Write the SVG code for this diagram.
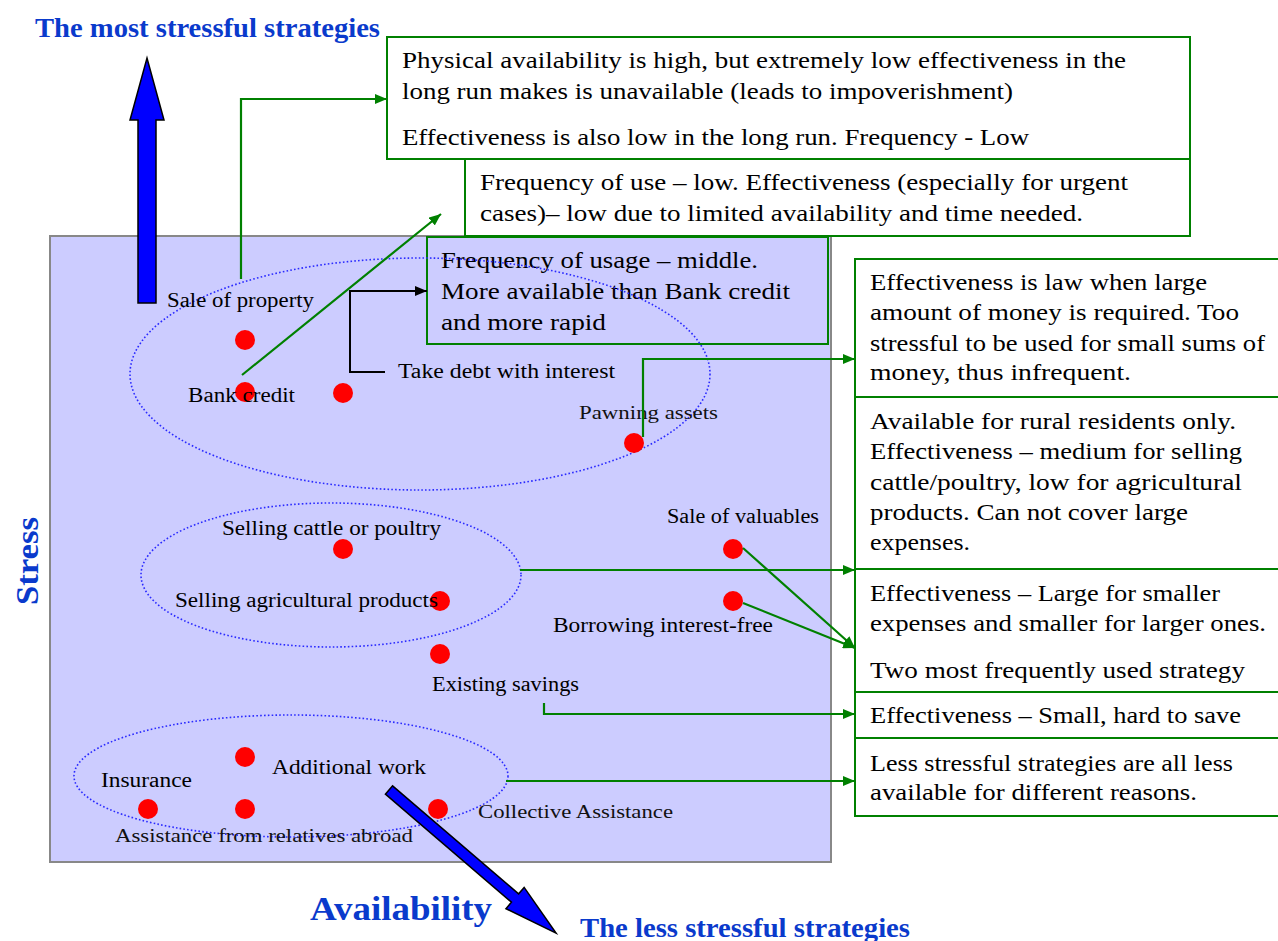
<svg xmlns="http://www.w3.org/2000/svg" width="1278" height="941" viewBox="0 0 1278 941">
  <style>
    .box { fill: #ffffff; stroke: #008000; stroke-width: 2; }
    .boxl { fill: #ccccff; stroke: #008000; stroke-width: 2; }
    .txt { font-family: "Liberation Serif", "DejaVu Serif", serif; font-size: 22.5px; fill: #000; }
    .lbl { font-family: "Liberation Serif", "DejaVu Serif", serif; font-size: 20px; fill: #000; }
    .lbls { font-family: "Liberation Serif", "DejaVu Serif", serif; font-size: 19px; fill: #111; }
    .head { font-family: "Liberation Serif", "DejaVu Serif", serif; font-weight: bold; fill: #0a3acc; }
    .dot { fill: #ff0000; }
    .ell { fill: none; stroke: #2a2aff; stroke-width: 1.6; stroke-dasharray: 1.6 2.2; }
    .con { fill: none; stroke: #008000; stroke-width: 2.2; }
    .conk { fill: none; stroke: #000; stroke-width: 2; }
    .big { fill: #0000ff; stroke: #000; stroke-width: 1.5; }
  </style>
  <defs>
    <marker id="ag" viewBox="0 0 12 10" refX="12" refY="5" markerWidth="12" markerHeight="10" markerUnits="userSpaceOnUse" orient="auto">
      <path d="M0,0 L12,5 L0,10 z" fill="#008000"/>
    </marker>
    <marker id="ak" viewBox="0 0 12 10" refX="12" refY="5" markerWidth="12" markerHeight="10" markerUnits="userSpaceOnUse" orient="auto">
      <path d="M0,0 L12,5 L0,10 z" fill="#000"/>
    </marker>
  </defs>

  <!-- plot field -->
  <rect x="50" y="236" width="781" height="626" fill="#ccccff" stroke="#888888" stroke-width="2"/>

  <!-- axis headings -->
  <text class="head" x="35" y="37" font-size="28" textLength="345" lengthAdjust="spacingAndGlyphs">The most stressful strategies</text>
  <text class="head" x="0" y="0" font-size="31" textLength="88" lengthAdjust="spacingAndGlyphs" transform="translate(38,605) rotate(-90)">Stress</text>
  <text class="head" x="310" y="920" font-size="34" textLength="182" lengthAdjust="spacingAndGlyphs">Availability</text>
  <text class="head" x="580" y="937" font-size="27" textLength="330" lengthAdjust="spacingAndGlyphs">The less stressful strategies</text>

  <!-- stress axis arrow -->
  <polygon class="big" points="138,303 138,120 130,120 147,58 164,120 156,120 156,303"/>

  <!-- comment boxes -->
  <g id="box-sale-property">
    <rect class="box" x="387" y="37" width="803" height="122"/>
    <text class="txt" x="402" y="68" textLength="724" lengthAdjust="spacingAndGlyphs">Physical availability is high, but extremely low effectiveness in the</text>
    <text class="txt" x="402" y="99" textLength="611" lengthAdjust="spacingAndGlyphs">long run makes is unavailable (leads to impoverishment)</text>
    <text class="txt" x="402" y="145" textLength="627" lengthAdjust="spacingAndGlyphs">Effectiveness is also low in the long run. Frequency - Low</text>
  </g>
  <g id="box-bank-credit">
    <rect class="box" x="465" y="159" width="725" height="77"/>
    <text class="txt" x="480" y="190" textLength="648" lengthAdjust="spacingAndGlyphs">Frequency of use  – low. Effectiveness (especially for urgent</text>
    <text class="txt" x="480" y="221" textLength="603" lengthAdjust="spacingAndGlyphs">cases)– low due to limited availability and time needed.</text>
  </g>
  <g id="box-debt">
    <rect class="boxl" x="427" y="237" width="401" height="107"/>
    <text class="txt" x="441" y="268" textLength="317" lengthAdjust="spacingAndGlyphs">Frequency of usage – middle.</text>
    <text class="txt" x="441" y="299" textLength="349" lengthAdjust="spacingAndGlyphs">More available than Bank credit</text>
    <text class="txt" x="441" y="330" textLength="165" lengthAdjust="spacingAndGlyphs">and more rapid</text>
  </g>
  <g id="box-pawning">
    <rect class="box" x="855" y="259" width="430" height="138"/>
    <text class="txt" x="870" y="290" textLength="337" lengthAdjust="spacingAndGlyphs">Effectiveness is law when large</text>
    <text class="txt" x="870" y="320" textLength="369" lengthAdjust="spacingAndGlyphs">amount of money is required. Too</text>
    <text class="txt" x="870" y="351" textLength="395" lengthAdjust="spacingAndGlyphs">stressful to be used for small sums of</text>
    <text class="txt" x="870" y="380" textLength="261" lengthAdjust="spacingAndGlyphs">money, thus infrequent.</text>
  </g>
  <g id="box-rural">
    <rect class="box" x="855" y="397" width="430" height="172"/>
    <text class="txt" x="870" y="429" textLength="366" lengthAdjust="spacingAndGlyphs">Available for rural residents only.</text>
    <text class="txt" x="870" y="459" textLength="372" lengthAdjust="spacingAndGlyphs">Effectiveness – medium for selling</text>
    <text class="txt" x="870" y="490" textLength="372" lengthAdjust="spacingAndGlyphs">cattle/poultry, low for agricultural</text>
    <text class="txt" x="870" y="520" textLength="318" lengthAdjust="spacingAndGlyphs">products. Can not cover large</text>
    <text class="txt" x="870" y="550" textLength="100" lengthAdjust="spacingAndGlyphs">expenses.</text>
  </g>
  <g id="box-frequent">
    <rect class="box" x="855" y="569" width="430" height="123"/>
    <text class="txt" x="870" y="601" textLength="350" lengthAdjust="spacingAndGlyphs">Effectiveness – Large for smaller</text>
    <text class="txt" x="870" y="631" textLength="396" lengthAdjust="spacingAndGlyphs">expenses and smaller for larger ones.</text>
    <text class="txt" x="870" y="678" textLength="375" lengthAdjust="spacingAndGlyphs">Two most frequently used strategy</text>
  </g>
  <g id="box-savings">
    <rect class="box" x="855" y="692" width="430" height="46"/>
    <text class="txt" x="870" y="723" textLength="371" lengthAdjust="spacingAndGlyphs">Effectiveness – Small, hard to save</text>
  </g>
  <g id="box-less-stressful">
    <rect class="box" x="855" y="738" width="430" height="78"/>
    <text class="txt" x="870" y="771" textLength="363" lengthAdjust="spacingAndGlyphs">Less stressful strategies are all less</text>
    <text class="txt" x="870" y="800" textLength="327" lengthAdjust="spacingAndGlyphs">available for different reasons.</text>
  </g>

  <!-- strategy groups -->
  <g id="groups">
    <ellipse class="ell" cx="420" cy="374" rx="290" ry="116"/>
    <ellipse class="ell" cx="331" cy="575" rx="190" ry="72"/>
    <ellipse class="ell" cx="291" cy="776" rx="217" ry="61"/>
  </g>

  <!-- strategies -->
  <g id="dots">
    <circle class="dot" cx="245" cy="340" r="10"/>
    <circle class="dot" cx="245" cy="392" r="10"/>
    <circle class="dot" cx="343" cy="393" r="10"/>
    <circle class="dot" cx="634" cy="443" r="10"/>
    <circle class="dot" cx="343" cy="549" r="10"/>
    <circle class="dot" cx="440" cy="601" r="10"/>
    <circle class="dot" cx="440" cy="654" r="10"/>
    <circle class="dot" cx="733" cy="549" r="10"/>
    <circle class="dot" cx="733" cy="601" r="10"/>
    <circle class="dot" cx="245" cy="757" r="10"/>
    <circle class="dot" cx="148" cy="809" r="10"/>
    <circle class="dot" cx="245" cy="809" r="10"/>
    <circle class="dot" cx="438" cy="809" r="10"/>
  </g>
  <g id="labels">
    <text class="lbl" x="167" y="307" textLength="147" lengthAdjust="spacingAndGlyphs">Sale of property</text>
    <text class="lbl" x="188" y="402" textLength="107" lengthAdjust="spacingAndGlyphs">Bank credit</text>
    <text class="lbl" x="398" y="378" textLength="217" lengthAdjust="spacingAndGlyphs">Take debt with interest</text>
    <text class="lbls" x="579" y="419" textLength="139" lengthAdjust="spacingAndGlyphs">Pawning assets</text>
    <text class="lbl" x="222" y="535" textLength="219" lengthAdjust="spacingAndGlyphs">Selling cattle or poultry</text>
    <text class="lbl" x="175" y="607" textLength="263" lengthAdjust="spacingAndGlyphs">Selling agricultural products</text>
    <text class="lbl" x="667" y="523" textLength="152" lengthAdjust="spacingAndGlyphs">Sale of valuables</text>
    <text class="lbl" x="553" y="632" textLength="220" lengthAdjust="spacingAndGlyphs">Borrowing interest-free</text>
    <text class="lbl" x="432" y="691" textLength="147" lengthAdjust="spacingAndGlyphs">Existing savings</text>
    <text class="lbl" x="101" y="787" textLength="91" lengthAdjust="spacingAndGlyphs">Insurance</text>
    <text class="lbl" x="272" y="774" textLength="154" lengthAdjust="spacingAndGlyphs">Additional work</text>
    <text class="lbls" x="115" y="842" textLength="298" lengthAdjust="spacingAndGlyphs">Assistance from relatives abroad</text>
    <text class="lbls" x="478" y="818" textLength="195" lengthAdjust="spacingAndGlyphs">Collective Assistance</text>
  </g>

  <!-- availability axis arrow, on top of the lower group -->
  <polygon class="big" transform="translate(389,790) rotate(40.6)" points="0,-5.5 166,-5.5 166,-14 220,0 166,14 166,5.5 0,5.5"/>

  <!-- connectors -->
  <g id="connectors">
    <polyline class="con" points="241,279 241,99 387,99" marker-end="url(#ag)"/>
    <line class="con" x1="242" y1="375" x2="441" y2="214" marker-end="url(#ag)"/>
    <polyline class="conk" points="385,372 350,372 350,291 427,291" marker-end="url(#ak)"/>
    <polyline class="con" points="643,437 643,359 855,359" marker-end="url(#ag)"/>
    <line class="con" x1="520" y1="570" x2="855" y2="570" marker-end="url(#ag)"/>
    <line class="con" x1="743" y1="548" x2="855" y2="648" marker-end="url(#ag)"/>
    <line class="con" x1="743" y1="603" x2="855" y2="648" marker-end="url(#ag)"/>
    <polyline class="con" points="544,703 544,714 855,714" marker-end="url(#ag)"/>
    <line class="con" x1="506" y1="781" x2="855" y2="781" marker-end="url(#ag)"/>
  </g>
</svg>
